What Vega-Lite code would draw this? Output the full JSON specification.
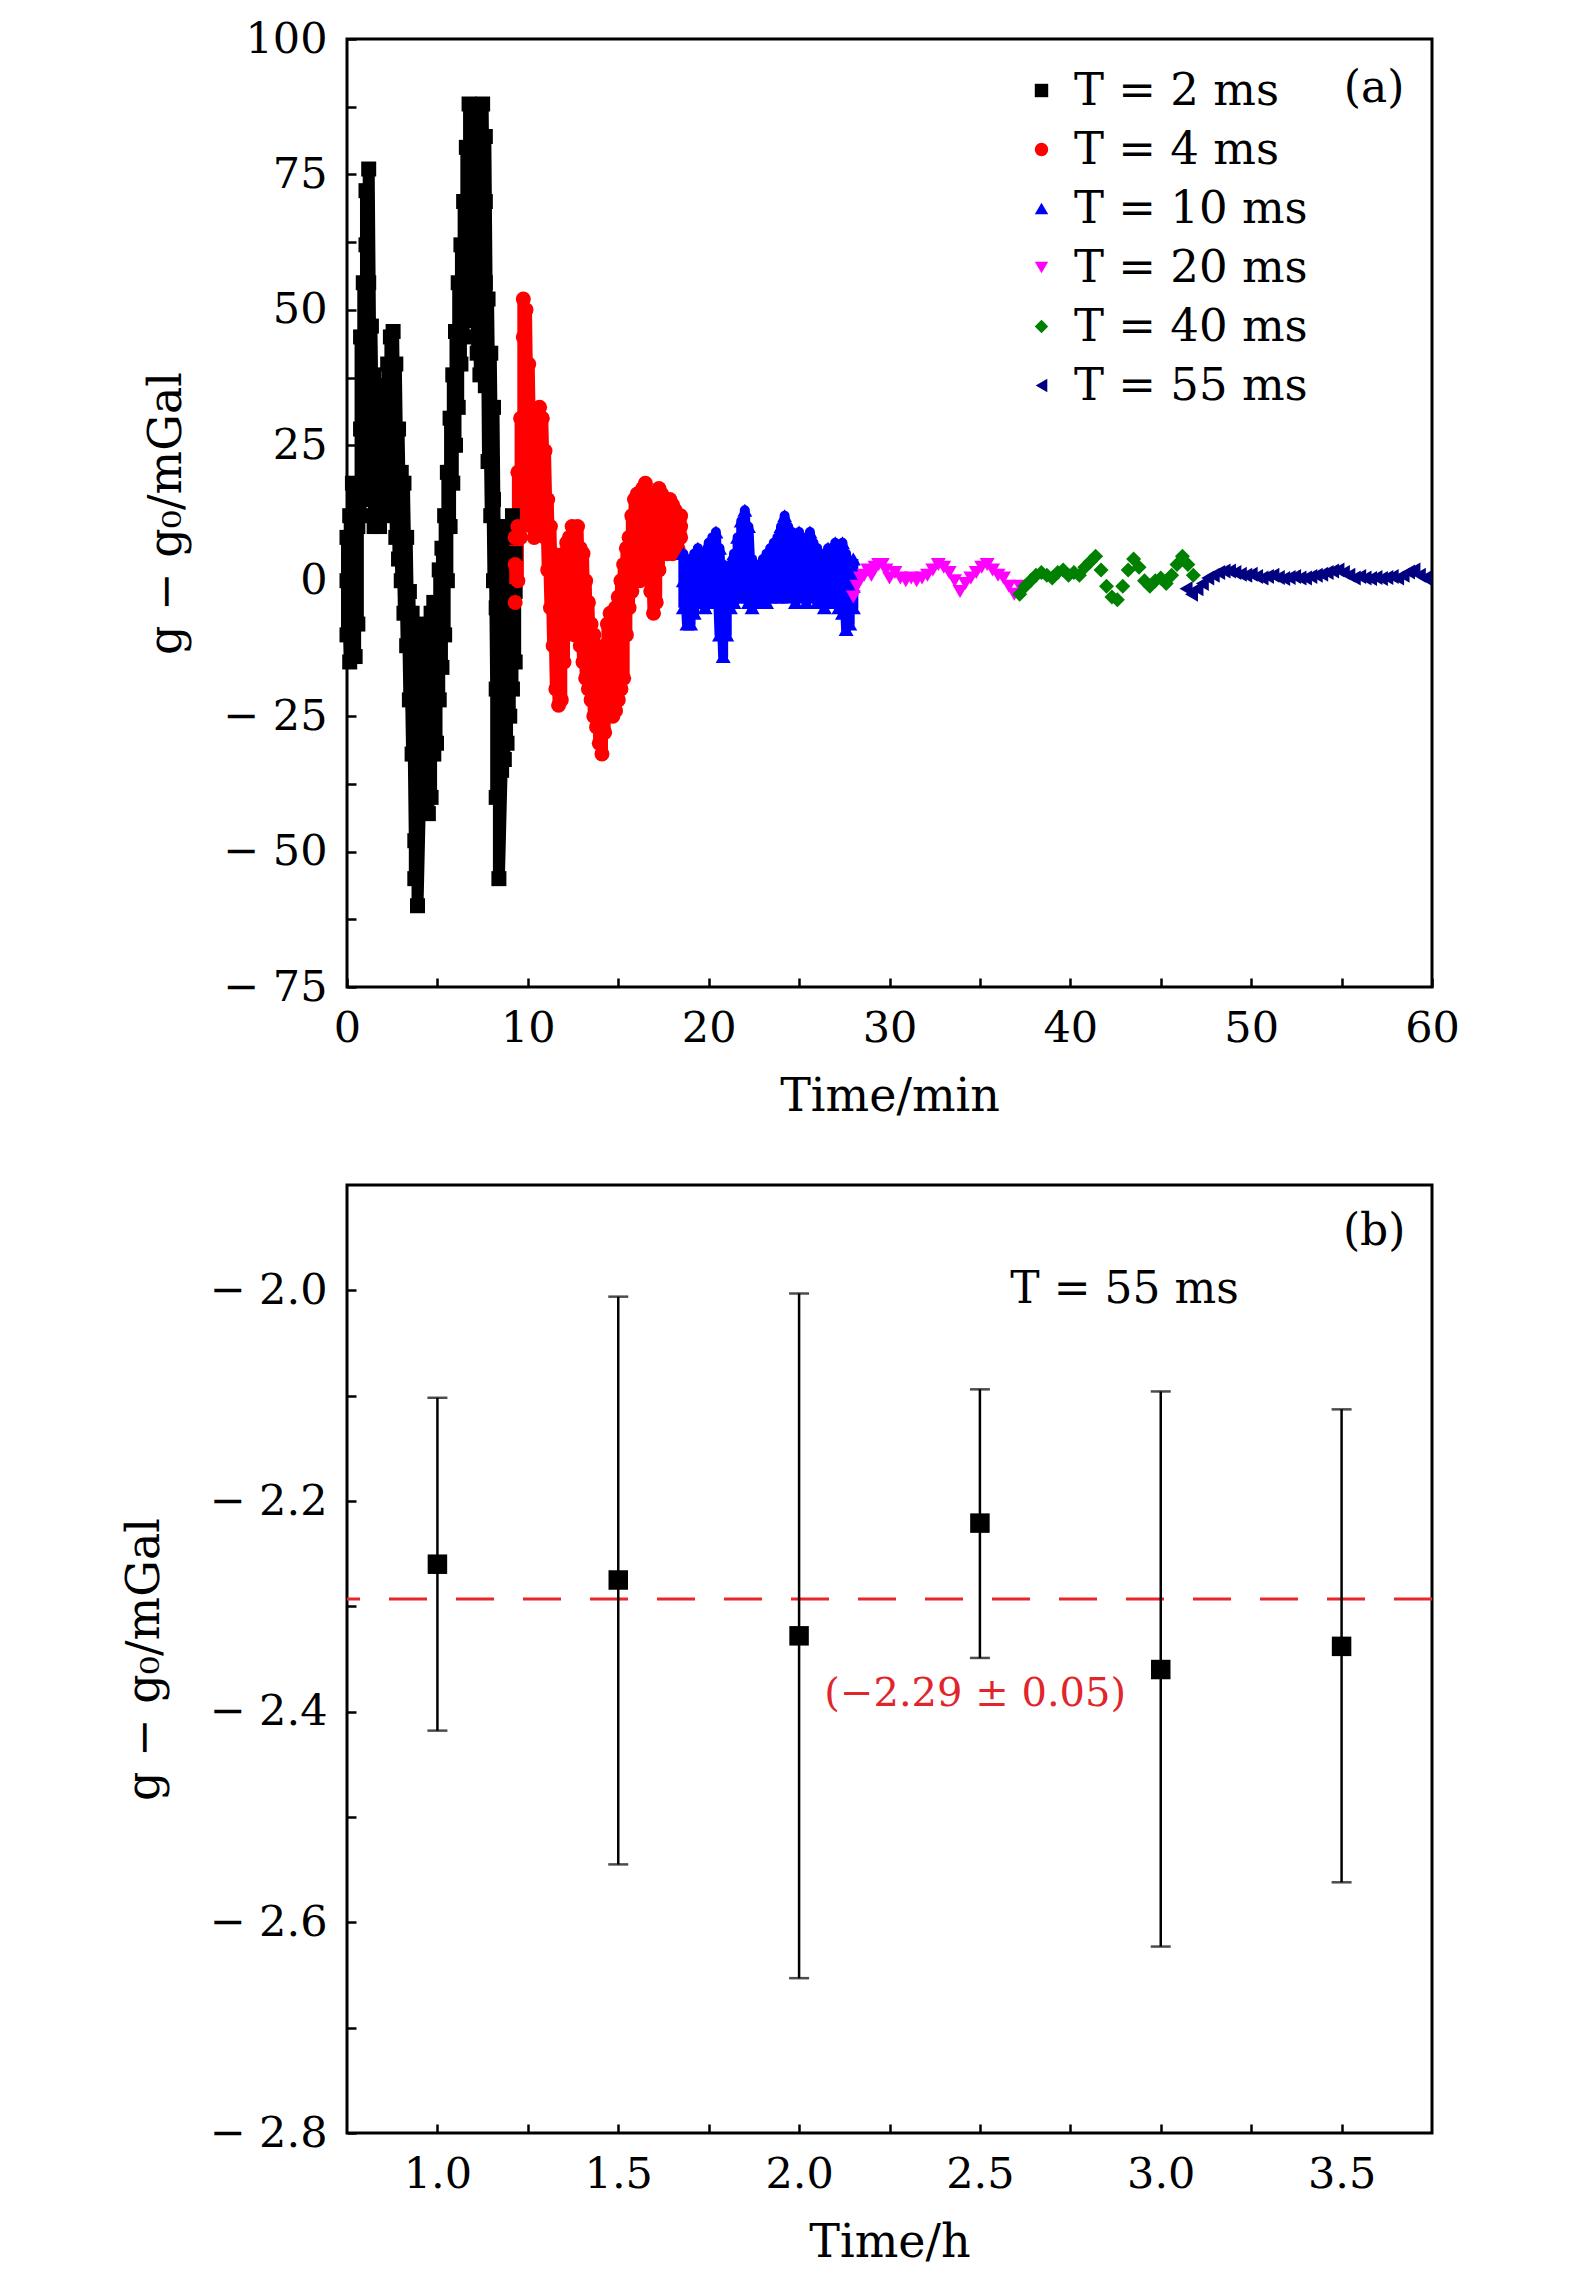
{
  "$schema": "https://vega.github.io/schema/vega-lite/v6.json",
  "background": "white",
  "padding": {"top": 16, "left": 120, "right": 0, "bottom": 0},
  "spacing": 62,
  "config": {
    "view": {"stroke": "#000", "strokeWidth": 3},
    "axis": {
      "domain": false, "grid": false,
      "tickSize": -9, "tickWidth": 2.5, "tickColor": "#000",
      "labelFont": "DejaVu Serif", "labelFontSize": 43, "labelColor": "#000",
      "titleFont": "DejaVu Serif", "titleFontSize": 46, "titleFontWeight": "normal", "titleColor": "#000"
    },
    "text": {"font": "DejaVu Serif"}
  },
  "datasets": {
    "a": [
      {"s":"2","t":0,"y":-10},{"s":"2","t":0,"y":0},{"s":"2","t":0,"y":8},
      {"s":"2","t":0.15,"y":-15},{"s":"2","t":0.15,"y":-3},{"s":"2","t":0.15,"y":12},
      {"s":"2","t":0.3,"y":-12},{"s":"2","t":0.3,"y":5},{"s":"2","t":0.3,"y":18},
      {"s":"2","t":0.45,"y":-14},{"s":"2","t":0.45,"y":2},{"s":"2","t":0.45,"y":15},
      {"s":"2","t":0.6,"y":-8},{"s":"2","t":0.6,"y":10},{"s":"2","t":0.6,"y":17},
      {"s":"2","t":0.75,"y":12},{"s":"2","t":0.75,"y":28},{"s":"2","t":0.75,"y":45},
      {"s":"2","t":0.9,"y":20},{"s":"2","t":0.9,"y":38},{"s":"2","t":0.9,"y":55},
      {"s":"2","t":1.05,"y":30},{"s":"2","t":1.05,"y":48},{"s":"2","t":1.05,"y":62},{"s":"2","t":1.05,"y":72},
      {"s":"2","t":1.2,"y":35},{"s":"2","t":1.2,"y":55},{"s":"2","t":1.2,"y":76},
      {"s":"2","t":1.35,"y":15},{"s":"2","t":1.35,"y":30},{"s":"2","t":1.35,"y":47},
      {"s":"2","t":1.5,"y":10},{"s":"2","t":1.5,"y":25},{"s":"2","t":1.5,"y":38},
      {"s":"2","t":1.65,"y":14},{"s":"2","t":1.65,"y":28},{"s":"2","t":1.65,"y":36},
      {"s":"2","t":1.8,"y":10},{"s":"2","t":1.8,"y":20},{"s":"2","t":1.8,"y":33},
      {"s":"2","t":1.95,"y":18},{"s":"2","t":1.95,"y":26},{"s":"2","t":1.95,"y":35},
      {"s":"2","t":2.1,"y":12},{"s":"2","t":2.1,"y":24},{"s":"2","t":2.1,"y":36},
      {"s":"2","t":2.25,"y":15},{"s":"2","t":2.25,"y":30},{"s":"2","t":2.25,"y":40},
      {"s":"2","t":2.4,"y":20},{"s":"2","t":2.4,"y":35},{"s":"2","t":2.4,"y":45},
      {"s":"2","t":2.55,"y":18},{"s":"2","t":2.55,"y":32},{"s":"2","t":2.55,"y":46},
      {"s":"2","t":2.7,"y":8},{"s":"2","t":2.7,"y":22},{"s":"2","t":2.7,"y":40},
      {"s":"2","t":2.85,"y":4},{"s":"2","t":2.85,"y":15},{"s":"2","t":2.85,"y":28},
      {"s":"2","t":3.0,"y":0},{"s":"2","t":3.0,"y":10},{"s":"2","t":3.0,"y":20},
      {"s":"2","t":3.15,"y":-6},{"s":"2","t":3.15,"y":5},{"s":"2","t":3.15,"y":18},
      {"s":"2","t":3.3,"y":-12},{"s":"2","t":3.3,"y":-2},{"s":"2","t":3.3,"y":8},
      {"s":"2","t":3.45,"y":-22},{"s":"2","t":3.45,"y":-10},{"s":"2","t":3.45,"y":-2},
      {"s":"2","t":3.6,"y":-32},{"s":"2","t":3.6,"y":-18},{"s":"2","t":3.6,"y":-6},
      {"s":"2","t":3.75,"y":-48},{"s":"2","t":3.75,"y":-30},{"s":"2","t":3.75,"y":-15},{"s":"2","t":3.75,"y":-55},
      {"s":"2","t":3.9,"y":-42},{"s":"2","t":3.9,"y":-28},{"s":"2","t":3.9,"y":-15},{"s":"2","t":3.9,"y":-60},
      {"s":"2","t":4.05,"y":-38},{"s":"2","t":4.05,"y":-25},{"s":"2","t":4.05,"y":-12},
      {"s":"2","t":4.2,"y":-32},{"s":"2","t":4.2,"y":-20},{"s":"2","t":4.2,"y":-8},
      {"s":"2","t":4.35,"y":-40},{"s":"2","t":4.35,"y":-25},{"s":"2","t":4.35,"y":-10},
      {"s":"2","t":4.5,"y":-43},{"s":"2","t":4.5,"y":-30},{"s":"2","t":4.5,"y":-15},
      {"s":"2","t":4.65,"y":-40},{"s":"2","t":4.65,"y":-22},{"s":"2","t":4.65,"y":-6},
      {"s":"2","t":4.8,"y":-32},{"s":"2","t":4.8,"y":-18},{"s":"2","t":4.8,"y":-4},
      {"s":"2","t":4.95,"y":-30},{"s":"2","t":4.95,"y":-16},{"s":"2","t":4.95,"y":-6},
      {"s":"2","t":5.1,"y":-22},{"s":"2","t":5.1,"y":-10},{"s":"2","t":5.1,"y":2},
      {"s":"2","t":5.25,"y":-16},{"s":"2","t":5.25,"y":-4},{"s":"2","t":5.25,"y":6},
      {"s":"2","t":5.4,"y":-10},{"s":"2","t":5.4,"y":2},{"s":"2","t":5.4,"y":12},
      {"s":"2","t":5.55,"y":0},{"s":"2","t":5.55,"y":10},{"s":"2","t":5.55,"y":20},
      {"s":"2","t":5.7,"y":10},{"s":"2","t":5.7,"y":20},{"s":"2","t":5.7,"y":30},
      {"s":"2","t":5.85,"y":18},{"s":"2","t":5.85,"y":28},{"s":"2","t":5.85,"y":38},
      {"s":"2","t":6.0,"y":25},{"s":"2","t":6.0,"y":36},{"s":"2","t":6.0,"y":46},
      {"s":"2","t":6.15,"y":32},{"s":"2","t":6.15,"y":45},{"s":"2","t":6.15,"y":55},
      {"s":"2","t":6.3,"y":40},{"s":"2","t":6.3,"y":52},{"s":"2","t":6.3,"y":62},
      {"s":"2","t":6.45,"y":45},{"s":"2","t":6.45,"y":58},{"s":"2","t":6.45,"y":70},
      {"s":"2","t":6.6,"y":50},{"s":"2","t":6.6,"y":65},{"s":"2","t":6.6,"y":80},
      {"s":"2","t":6.75,"y":55},{"s":"2","t":6.75,"y":72},{"s":"2","t":6.75,"y":88},
      {"s":"2","t":6.9,"y":52},{"s":"2","t":6.9,"y":68},{"s":"2","t":6.9,"y":86},
      {"s":"2","t":7.05,"y":48},{"s":"2","t":7.05,"y":60},{"s":"2","t":7.05,"y":78},
      {"s":"2","t":7.2,"y":42},{"s":"2","t":7.2,"y":55},{"s":"2","t":7.2,"y":66},
      {"s":"2","t":7.35,"y":38},{"s":"2","t":7.35,"y":50},{"s":"2","t":7.35,"y":62},
      {"s":"2","t":7.5,"y":40},{"s":"2","t":7.5,"y":58},{"s":"2","t":7.5,"y":75},{"s":"2","t":7.5,"y":88},
      {"s":"2","t":7.65,"y":36},{"s":"2","t":7.65,"y":55},{"s":"2","t":7.65,"y":70},{"s":"2","t":7.65,"y":82},
      {"s":"2","t":7.8,"y":22},{"s":"2","t":7.8,"y":38},{"s":"2","t":7.8,"y":52},
      {"s":"2","t":7.95,"y":12},{"s":"2","t":7.95,"y":25},{"s":"2","t":7.95,"y":42},
      {"s":"2","t":8.1,"y":0},{"s":"2","t":8.1,"y":15},{"s":"2","t":8.1,"y":32},
      {"s":"2","t":8.25,"y":-20},{"s":"2","t":8.25,"y":-5},{"s":"2","t":8.25,"y":10},{"s":"2","t":8.25,"y":-40},
      {"s":"2","t":8.4,"y":-30},{"s":"2","t":8.4,"y":-12},{"s":"2","t":8.4,"y":5},{"s":"2","t":8.4,"y":-55},
      {"s":"2","t":8.55,"y":-35},{"s":"2","t":8.55,"y":-15},{"s":"2","t":8.55,"y":0},
      {"s":"2","t":8.7,"y":-33},{"s":"2","t":8.7,"y":-15},{"s":"2","t":8.7,"y":5},
      {"s":"2","t":8.85,"y":-30},{"s":"2","t":8.85,"y":-10},{"s":"2","t":8.85,"y":10},
      {"s":"2","t":9.0,"y":-25},{"s":"2","t":9.0,"y":-8},{"s":"2","t":9.0,"y":8},
      {"s":"2","t":9.15,"y":-20},{"s":"2","t":9.15,"y":-5},{"s":"2","t":9.15,"y":12},
      {"s":"2","t":9.3,"y":-15},{"s":"2","t":9.3,"y":-2},{"s":"2","t":9.3,"y":5},

      {"s":"4","t":9.3,"y":-4},{"s":"4","t":9.3,"y":3},{"s":"4","t":9.3,"y":8},
      {"s":"4","t":9.45,"y":0},{"s":"4","t":9.45,"y":10},{"s":"4","t":9.45,"y":20},
      {"s":"4","t":9.6,"y":8},{"s":"4","t":9.6,"y":18},{"s":"4","t":9.6,"y":30},
      {"s":"4","t":9.75,"y":15},{"s":"4","t":9.75,"y":30},{"s":"4","t":9.75,"y":45},{"s":"4","t":9.75,"y":52},
      {"s":"4","t":9.9,"y":20},{"s":"4","t":9.9,"y":35},{"s":"4","t":9.9,"y":50},
      {"s":"4","t":10.05,"y":12},{"s":"4","t":10.05,"y":25},{"s":"4","t":10.05,"y":40},
      {"s":"4","t":10.2,"y":10},{"s":"4","t":10.2,"y":20},{"s":"4","t":10.2,"y":32},
      {"s":"4","t":10.35,"y":8},{"s":"4","t":10.35,"y":18},{"s":"4","t":10.35,"y":30},
      {"s":"4","t":10.5,"y":12},{"s":"4","t":10.5,"y":22},{"s":"4","t":10.5,"y":28},
      {"s":"4","t":10.65,"y":15},{"s":"4","t":10.65,"y":25},{"s":"4","t":10.65,"y":32},
      {"s":"4","t":10.8,"y":10},{"s":"4","t":10.8,"y":20},{"s":"4","t":10.8,"y":30},
      {"s":"4","t":10.95,"y":8},{"s":"4","t":10.95,"y":15},{"s":"4","t":10.95,"y":24},
      {"s":"4","t":11.1,"y":2},{"s":"4","t":11.1,"y":10},{"s":"4","t":11.1,"y":15},
      {"s":"4","t":11.25,"y":-5},{"s":"4","t":11.25,"y":3},{"s":"4","t":11.25,"y":10},
      {"s":"4","t":11.4,"y":-12},{"s":"4","t":11.4,"y":-5},{"s":"4","t":11.4,"y":5},
      {"s":"4","t":11.55,"y":-20},{"s":"4","t":11.55,"y":-10},{"s":"4","t":11.55,"y":0},
      {"s":"4","t":11.7,"y":-23},{"s":"4","t":11.7,"y":-15},{"s":"4","t":11.7,"y":-5},
      {"s":"4","t":11.85,"y":-22},{"s":"4","t":11.85,"y":-12},{"s":"4","t":11.85,"y":0},
      {"s":"4","t":12.0,"y":-15},{"s":"4","t":12.0,"y":-5},{"s":"4","t":12.0,"y":5},
      {"s":"4","t":12.15,"y":-10},{"s":"4","t":12.15,"y":0},{"s":"4","t":12.15,"y":7},
      {"s":"4","t":12.3,"y":-8},{"s":"4","t":12.3,"y":2},{"s":"4","t":12.3,"y":8},
      {"s":"4","t":12.45,"y":-5},{"s":"4","t":12.45,"y":4},{"s":"4","t":12.45,"y":10},
      {"s":"4","t":12.6,"y":-10},{"s":"4","t":12.6,"y":0},{"s":"4","t":12.6,"y":8},
      {"s":"4","t":12.75,"y":-8},{"s":"4","t":12.75,"y":2},{"s":"4","t":12.75,"y":10},
      {"s":"4","t":12.9,"y":-12},{"s":"4","t":12.9,"y":-3},{"s":"4","t":12.9,"y":6},
      {"s":"4","t":13.05,"y":-15},{"s":"4","t":13.05,"y":-5},{"s":"4","t":13.05,"y":5},
      {"s":"4","t":13.2,"y":-18},{"s":"4","t":13.2,"y":-8},{"s":"4","t":13.2,"y":0},
      {"s":"4","t":13.35,"y":-20},{"s":"4","t":13.35,"y":-12},{"s":"4","t":13.35,"y":-4},
      {"s":"4","t":13.5,"y":-22},{"s":"4","t":13.5,"y":-15},{"s":"4","t":13.5,"y":-8},
      {"s":"4","t":13.65,"y":-25},{"s":"4","t":13.65,"y":-18},{"s":"4","t":13.65,"y":-10},
      {"s":"4","t":13.8,"y":-27},{"s":"4","t":13.8,"y":-20},{"s":"4","t":13.8,"y":-12},
      {"s":"4","t":13.95,"y":-30},{"s":"4","t":13.95,"y":-22},{"s":"4","t":13.95,"y":-15},
      {"s":"4","t":14.1,"y":-32},{"s":"4","t":14.1,"y":-25},{"s":"4","t":14.1,"y":-18},
      {"s":"4","t":14.25,"y":-28},{"s":"4","t":14.25,"y":-20},{"s":"4","t":14.25,"y":-12},
      {"s":"4","t":14.4,"y":-25},{"s":"4","t":14.4,"y":-15},{"s":"4","t":14.4,"y":-8},
      {"s":"4","t":14.55,"y":-24},{"s":"4","t":14.55,"y":-14},{"s":"4","t":14.55,"y":-6},
      {"s":"4","t":14.7,"y":-25},{"s":"4","t":14.7,"y":-16},{"s":"4","t":14.7,"y":-8},
      {"s":"4","t":14.85,"y":-24},{"s":"4","t":14.85,"y":-15},{"s":"4","t":14.85,"y":-5},
      {"s":"4","t":15.0,"y":-22},{"s":"4","t":15.0,"y":-12},{"s":"4","t":15.0,"y":-3},
      {"s":"4","t":15.15,"y":-20},{"s":"4","t":15.15,"y":-10},{"s":"4","t":15.15,"y":0},
      {"s":"4","t":15.3,"y":-18},{"s":"4","t":15.3,"y":-6},{"s":"4","t":15.3,"y":3},
      {"s":"4","t":15.45,"y":-10},{"s":"4","t":15.45,"y":0},{"s":"4","t":15.45,"y":6},
      {"s":"4","t":15.6,"y":-5},{"s":"4","t":15.6,"y":3},{"s":"4","t":15.6,"y":8},
      {"s":"4","t":15.75,"y":-2},{"s":"4","t":15.75,"y":5},{"s":"4","t":15.75,"y":12},
      {"s":"4","t":15.9,"y":0},{"s":"4","t":15.9,"y":8},{"s":"4","t":15.9,"y":15},
      {"s":"4","t":16.05,"y":2},{"s":"4","t":16.05,"y":10},{"s":"4","t":16.05,"y":16},
      {"s":"4","t":16.2,"y":0},{"s":"4","t":16.2,"y":8},{"s":"4","t":16.2,"y":14},
      {"s":"4","t":16.35,"y":2},{"s":"4","t":16.35,"y":10},{"s":"4","t":16.35,"y":17},
      {"s":"4","t":16.5,"y":5},{"s":"4","t":16.5,"y":12},{"s":"4","t":16.5,"y":18},
      {"s":"4","t":16.65,"y":3},{"s":"4","t":16.65,"y":10},{"s":"4","t":16.65,"y":16},
      {"s":"4","t":16.8,"y":-2},{"s":"4","t":16.8,"y":5},{"s":"4","t":16.8,"y":12},
      {"s":"4","t":16.95,"y":-6},{"s":"4","t":16.95,"y":2},{"s":"4","t":16.95,"y":8},
      {"s":"4","t":17.1,"y":-4},{"s":"4","t":17.1,"y":5},{"s":"4","t":17.1,"y":14},
      {"s":"4","t":17.25,"y":2},{"s":"4","t":17.25,"y":10},{"s":"4","t":17.25,"y":17},
      {"s":"4","t":17.4,"y":5},{"s":"4","t":17.4,"y":12},{"s":"4","t":17.4,"y":16},
      {"s":"4","t":17.55,"y":6},{"s":"4","t":17.55,"y":10},{"s":"4","t":17.55,"y":15},
      {"s":"4","t":17.7,"y":5},{"s":"4","t":17.7,"y":10},{"s":"4","t":17.7,"y":14},
      {"s":"4","t":17.85,"y":6},{"s":"4","t":17.85,"y":11},{"s":"4","t":17.85,"y":15},
      {"s":"4","t":18.0,"y":5},{"s":"4","t":18.0,"y":9},{"s":"4","t":18.0,"y":14},
      {"s":"4","t":18.15,"y":7},{"s":"4","t":18.15,"y":10},{"s":"4","t":18.15,"y":13},
      {"s":"4","t":18.3,"y":6},{"s":"4","t":18.3,"y":9},{"s":"4","t":18.3,"y":12},
      {"s":"4","t":18.45,"y":8},{"s":"4","t":18.45,"y":10},{"s":"4","t":18.45,"y":12},

      {"s":"10","t":18.6,"y":-5},{"s":"10","t":18.6,"y":0},{"s":"10","t":18.6,"y":5},
      {"s":"10","t":18.8,"y":-8},{"s":"10","t":18.8,"y":-2},{"s":"10","t":18.8,"y":4},
      {"s":"10","t":19.0,"y":-8},{"s":"10","t":19.0,"y":0},{"s":"10","t":19.0,"y":3},
      {"s":"10","t":19.2,"y":-6},{"s":"10","t":19.2,"y":1},{"s":"10","t":19.2,"y":5},
      {"s":"10","t":19.4,"y":-4},{"s":"10","t":19.4,"y":2},{"s":"10","t":19.4,"y":6},
      {"s":"10","t":19.6,"y":-3},{"s":"10","t":19.6,"y":1},{"s":"10","t":19.6,"y":5},
      {"s":"10","t":19.8,"y":-5},{"s":"10","t":19.8,"y":0},{"s":"10","t":19.8,"y":4},
      {"s":"10","t":20.0,"y":-4},{"s":"10","t":20.0,"y":2},{"s":"10","t":20.0,"y":7},
      {"s":"10","t":20.2,"y":-3},{"s":"10","t":20.2,"y":3},{"s":"10","t":20.2,"y":8},
      {"s":"10","t":20.4,"y":-2},{"s":"10","t":20.4,"y":4},{"s":"10","t":20.4,"y":9},
      {"s":"10","t":20.6,"y":-10},{"s":"10","t":20.6,"y":0},{"s":"10","t":20.6,"y":6},
      {"s":"10","t":20.8,"y":-14},{"s":"10","t":20.8,"y":-5},{"s":"10","t":20.8,"y":3},
      {"s":"10","t":21.0,"y":-10},{"s":"10","t":21.0,"y":-2},{"s":"10","t":21.0,"y":2},
      {"s":"10","t":21.2,"y":-5},{"s":"10","t":21.2,"y":0},{"s":"10","t":21.2,"y":3},
      {"s":"10","t":21.4,"y":-4},{"s":"10","t":21.4,"y":2},{"s":"10","t":21.4,"y":5},
      {"s":"10","t":21.6,"y":-3},{"s":"10","t":21.6,"y":3},{"s":"10","t":21.6,"y":8},
      {"s":"10","t":21.8,"y":-2},{"s":"10","t":21.8,"y":5},{"s":"10","t":21.8,"y":11},
      {"s":"10","t":22.0,"y":-3},{"s":"10","t":22.0,"y":6},{"s":"10","t":22.0,"y":13},
      {"s":"10","t":22.2,"y":-4},{"s":"10","t":22.2,"y":4},{"s":"10","t":22.2,"y":10},
      {"s":"10","t":22.4,"y":-5},{"s":"10","t":22.4,"y":1},{"s":"10","t":22.4,"y":4},
      {"s":"10","t":22.6,"y":-3},{"s":"10","t":22.6,"y":1},{"s":"10","t":22.6,"y":3},
      {"s":"10","t":22.8,"y":-4},{"s":"10","t":22.8,"y":0},{"s":"10","t":22.8,"y":3},
      {"s":"10","t":23.0,"y":-3},{"s":"10","t":23.0,"y":2},{"s":"10","t":23.0,"y":4},
      {"s":"10","t":23.2,"y":-4},{"s":"10","t":23.2,"y":0},{"s":"10","t":23.2,"y":5},
      {"s":"10","t":23.4,"y":-3},{"s":"10","t":23.4,"y":1},{"s":"10","t":23.4,"y":6},
      {"s":"10","t":23.6,"y":-2},{"s":"10","t":23.6,"y":3},{"s":"10","t":23.6,"y":7},
      {"s":"10","t":23.8,"y":-3},{"s":"10","t":23.8,"y":4},{"s":"10","t":23.8,"y":8},
      {"s":"10","t":24.0,"y":-3},{"s":"10","t":24.0,"y":5},{"s":"10","t":24.0,"y":10},
      {"s":"10","t":24.2,"y":-2},{"s":"10","t":24.2,"y":6},{"s":"10","t":24.2,"y":12},
      {"s":"10","t":24.4,"y":-3},{"s":"10","t":24.4,"y":5},{"s":"10","t":24.4,"y":10},
      {"s":"10","t":24.6,"y":-2},{"s":"10","t":24.6,"y":4},{"s":"10","t":24.6,"y":9},
      {"s":"10","t":24.8,"y":-4},{"s":"10","t":24.8,"y":3},{"s":"10","t":24.8,"y":8},
      {"s":"10","t":25.0,"y":-3},{"s":"10","t":25.0,"y":4},{"s":"10","t":25.0,"y":9},
      {"s":"10","t":25.2,"y":-2},{"s":"10","t":25.2,"y":3},{"s":"10","t":25.2,"y":8},
      {"s":"10","t":25.4,"y":-4},{"s":"10","t":25.4,"y":2},{"s":"10","t":25.4,"y":7},
      {"s":"10","t":25.6,"y":-3},{"s":"10","t":25.6,"y":4},{"s":"10","t":25.6,"y":9},
      {"s":"10","t":25.8,"y":-2},{"s":"10","t":25.8,"y":3},{"s":"10","t":25.8,"y":7},
      {"s":"10","t":26.0,"y":-4},{"s":"10","t":26.0,"y":1},{"s":"10","t":26.0,"y":6},
      {"s":"10","t":26.2,"y":-3},{"s":"10","t":26.2,"y":2},{"s":"10","t":26.2,"y":5},
      {"s":"10","t":26.4,"y":-5},{"s":"10","t":26.4,"y":0},{"s":"10","t":26.4,"y":4},
      {"s":"10","t":26.6,"y":-4},{"s":"10","t":26.6,"y":1},{"s":"10","t":26.6,"y":6},
      {"s":"10","t":26.8,"y":-3},{"s":"10","t":26.8,"y":2},{"s":"10","t":26.8,"y":5},
      {"s":"10","t":27.0,"y":-4},{"s":"10","t":27.0,"y":1},{"s":"10","t":27.0,"y":7},
      {"s":"10","t":27.2,"y":-5},{"s":"10","t":27.2,"y":0},{"s":"10","t":27.2,"y":5},
      {"s":"10","t":27.4,"y":-6},{"s":"10","t":27.4,"y":1},{"s":"10","t":27.4,"y":7},
      {"s":"10","t":27.6,"y":-9},{"s":"10","t":27.6,"y":-2},{"s":"10","t":27.6,"y":5},
      {"s":"10","t":27.8,"y":-8},{"s":"10","t":27.8,"y":-3},{"s":"10","t":27.8,"y":3},
      {"s":"10","t":28.0,"y":-5},{"s":"10","t":28.0,"y":-1},{"s":"10","t":28.0,"y":4},

      {"s":"20","t":28.0,"y":-3},{"s":"20","t":28.2,"y":-1},{"s":"20","t":28.4,"y":0.5},
      {"s":"20","t":28.6,"y":1},{"s":"20","t":28.8,"y":2},{"s":"20","t":29.0,"y":1},
      {"s":"20","t":29.2,"y":2.5},{"s":"20","t":29.4,"y":3},{"s":"20","t":29.6,"y":3},
      {"s":"20","t":29.8,"y":2},{"s":"20","t":30.0,"y":0.5},{"s":"20","t":30.3,"y":1.5},
      {"s":"20","t":30.6,"y":0.5},{"s":"20","t":30.9,"y":0},{"s":"20","t":31.2,"y":0.5},
      {"s":"20","t":31.5,"y":0},{"s":"20","t":31.8,"y":0.5},{"s":"20","t":32.1,"y":1},
      {"s":"20","t":32.4,"y":2},{"s":"20","t":32.7,"y":3},{"s":"20","t":33.0,"y":2.5},
      {"s":"20","t":33.3,"y":1.5},{"s":"20","t":33.6,"y":0},{"s":"20","t":33.9,"y":-2},
      {"s":"20","t":34.2,"y":-0.5},{"s":"20","t":34.5,"y":0.5},{"s":"20","t":34.8,"y":1.5},
      {"s":"20","t":35.1,"y":2.5},{"s":"20","t":35.4,"y":3},{"s":"20","t":35.7,"y":2},
      {"s":"20","t":36.0,"y":1},{"s":"20","t":36.3,"y":0.5},{"s":"20","t":36.6,"y":-1},
      {"s":"20","t":36.9,"y":-2.5},{"s":"20","t":37.2,"y":-1},

      {"s":"40","t":37.2,"y":-2.5},{"s":"40","t":37.5,"y":-1},{"s":"40","t":37.8,"y":0},
      {"s":"40","t":38.1,"y":1},{"s":"40","t":38.4,"y":1.5},{"s":"40","t":38.7,"y":1},
      {"s":"40","t":39.0,"y":0.5},{"s":"40","t":39.3,"y":1.5},{"s":"40","t":39.6,"y":2},
      {"s":"40","t":39.9,"y":1},{"s":"40","t":40.2,"y":1.5},{"s":"40","t":40.5,"y":1},
      {"s":"40","t":40.8,"y":2.5},{"s":"40","t":41.1,"y":3.5},{"s":"40","t":41.4,"y":4.5},
      {"s":"40","t":41.7,"y":2},{"s":"40","t":42.0,"y":-1},{"s":"40","t":42.3,"y":-3},
      {"s":"40","t":42.6,"y":-3.5},{"s":"40","t":42.9,"y":-1},{"s":"40","t":43.2,"y":2},
      {"s":"40","t":43.5,"y":4},{"s":"40","t":43.8,"y":2.5},{"s":"40","t":44.1,"y":0},
      {"s":"40","t":44.4,"y":-1},{"s":"40","t":44.7,"y":0},{"s":"40","t":45.0,"y":0.5},
      {"s":"40","t":45.3,"y":-0.5},{"s":"40","t":45.6,"y":1},{"s":"40","t":45.9,"y":3},
      {"s":"40","t":46.2,"y":4.5},{"s":"40","t":46.5,"y":3},{"s":"40","t":46.8,"y":1},

      {"s":"55","t":46.4,"y":-1.5},{"s":"55","t":46.7,"y":-2.5},{"s":"55","t":47.0,"y":-1.5},
      {"s":"55","t":47.3,"y":-0.5},{"s":"55","t":47.6,"y":0.5},{"s":"55","t":47.9,"y":1},
      {"s":"55","t":48.2,"y":1.5},{"s":"55","t":48.5,"y":1.8},{"s":"55","t":48.8,"y":1.8},
      {"s":"55","t":49.1,"y":1.5},{"s":"55","t":49.4,"y":1.2},{"s":"55","t":49.7,"y":1},
      {"s":"55","t":50.0,"y":1.2},{"s":"55","t":50.3,"y":0.8},{"s":"55","t":50.6,"y":0.5},
      {"s":"55","t":50.9,"y":0.8},{"s":"55","t":51.2,"y":1},{"s":"55","t":51.5,"y":0.6},
      {"s":"55","t":51.8,"y":0.4},{"s":"55","t":52.1,"y":0.6},{"s":"55","t":52.4,"y":0.8},
      {"s":"55","t":52.7,"y":0.5},{"s":"55","t":53.0,"y":0.5},{"s":"55","t":53.3,"y":0.8},
      {"s":"55","t":53.6,"y":1},{"s":"55","t":53.9,"y":1.2},{"s":"55","t":54.2,"y":1.5},
      {"s":"55","t":54.5,"y":1.8},{"s":"55","t":54.8,"y":2},{"s":"55","t":55.1,"y":1.5},
      {"s":"55","t":55.4,"y":1},{"s":"55","t":55.7,"y":0.5},{"s":"55","t":56.0,"y":0.8},
      {"s":"55","t":56.3,"y":0.5},{"s":"55","t":56.6,"y":0.4},{"s":"55","t":56.9,"y":0.6},
      {"s":"55","t":57.2,"y":0.4},{"s":"55","t":57.5,"y":0.6},{"s":"55","t":57.8,"y":0.8},
      {"s":"55","t":58.1,"y":0.5},{"s":"55","t":58.4,"y":1},{"s":"55","t":58.7,"y":1.6},
      {"s":"55","t":59.0,"y":2},{"s":"55","t":59.3,"y":1},{"s":"55","t":59.6,"y":0.5}
    ],
    "b": [
      {"h":1.0,"v":-2.260,"lo":-2.418,"hi":-2.102},
      {"h":1.5,"v":-2.275,"lo":-2.545,"hi":-2.006},
      {"h":2.0,"v":-2.328,"lo":-2.653,"hi":-2.003},
      {"h":2.5,"v":-2.221,"lo":-2.349,"hi":-2.094},
      {"h":3.0,"v":-2.360,"lo":-2.623,"hi":-2.096},
      {"h":3.5,"v":-2.338,"lo":-2.562,"hi":-2.113}
    ],
    "one": [{}]
  },
  "vconcat": [
    {
      "width": 1085,
      "height": 948,
      "layer": [
        {
          "data": {"name": "a"},
          "transform": [{"filter": "datum.s == '2'"}],
          "mark": {"type": "line", "color": "#000000", "strokeWidth": 12, "strokeJoin": "round"},
          "encoding": {
            "x": {"field": "t", "type": "quantitative"},
            "y": {"field": "y", "type": "quantitative"}
          }
        },
        {
          "data": {"name": "a"},
          "transform": [{"filter": "datum.s == '4'"}],
          "mark": {"type": "line", "color": "#ff0000", "strokeWidth": 12, "strokeJoin": "round"},
          "encoding": {
            "x": {"field": "t", "type": "quantitative"},
            "y": {"field": "y", "type": "quantitative"}
          }
        },
        {
          "data": {"name": "a"},
          "transform": [{"filter": "datum.s == '10'"}],
          "mark": {"type": "line", "color": "#0000ff", "strokeWidth": 10, "strokeJoin": "round"},
          "encoding": {
            "x": {"field": "t", "type": "quantitative"},
            "y": {"field": "y", "type": "quantitative"}
          }
        },
        {
          "data": {"name": "a"},
          "mark": {"type": "point", "filled": true, "opacity": 1, "size": 225},
          "encoding": {
            "x": {
              "field": "t", "type": "quantitative",
              "scale": {"domain": [0, 60], "nice": false, "zero": false},
              "axis": {
                "title": "Time/min", "values": [0,5,10,15,20,25,30,35,40,45,50,55,60],
                "labelExpr": "datum.value % 10 == 0 ? datum.label : ''",
                "labelPadding": 29, "titlePadding": 24, "labelFlush": false
              }
            },
            "y": {
              "field": "y", "type": "quantitative",
              "scale": {"domain": [-75, 100], "nice": false, "zero": false},
              "axis": {
                "title": "g − g₀/mGal",
                "values": [-75,-62.5,-50,-37.5,-25,-12.5,0,12.5,25,37.5,50,62.5,75,87.5,100],
                "labelExpr": "round(datum.value * 2) % 50 != 0 ? '' : (datum.value < 0 ? '− ' + format(-datum.value, 'd') : format(datum.value, 'd'))",
                "labelPadding": 29, "titlePadding": 32, "labelFlush": false
              }
            },
            "color": {
              "field": "s", "type": "nominal",
              "scale": {
                "domain": ["2","4","10","20","40","55"],
                "range": ["#000000","#ff0000","#0000ff","#ff00ff","#008000","#000080"]
              },
              "legend": {
                "orient": "none", "legendX": 672, "legendY": 29, "title": null,
                "labelExpr": "'T = ' + datum.label + ' ms'", "labelLimit": 500,
                "labelFont": "DejaVu Serif", "labelFontSize": 45, "labelColor": "#000",
                "symbolSize": 180, "symbolStrokeWidth": 0, "rowPadding": 13, "labelOffset": 10
              }
            },
            "shape": {
              "field": "s", "type": "nominal",
              "scale": {
                "domain": ["2","4","10","20","40","55"],
                "range": ["square","circle","triangle-up","triangle-down","diamond","triangle-left"]
              },
              "legend": {
                "orient": "none", "legendX": 672, "legendY": 29, "title": null,
                "labelExpr": "'T = ' + datum.label + ' ms'", "labelLimit": 500,
                "labelFont": "DejaVu Serif", "labelFontSize": 45, "labelColor": "#000",
                "symbolSize": 180, "symbolStrokeWidth": 0, "rowPadding": 13, "labelOffset": 10
              }
            }
          }
        },
        {
          "data": {"name": "one"},
          "mark": {"type": "text", "text": "(a)", "fontSize": 44, "color": "#000"},
          "encoding": {"x": {"datum": 56.8}, "y": {"datum": 90.8}}
        }
      ]
    },
    {
      "width": 1085,
      "height": 948,
      "layer": [
        {
          "data": {"name": "one"},
          "mark": {"type": "rule", "color": "#e8262b", "strokeWidth": 3, "strokeDash": [38, 29]},
          "encoding": {"y": {"datum": -2.293, "type": "quantitative"}}
        },
        {
          "data": {"name": "b"},
          "mark": {"type": "rule", "color": "#000", "strokeWidth": 2.5},
          "encoding": {
            "x": {
              "field": "h", "type": "quantitative",
              "scale": {"domain": [0.75, 3.75], "nice": false, "zero": false},
              "axis": {
                "title": "Time/h", "values": [1,1.25,1.5,1.75,2,2.25,2.5,2.75,3,3.25,3.5],
                "labelExpr": "round(datum.value * 4) % 2 == 0 ? format(datum.value, '.1f') : ''",
                "labelPadding": 29, "titlePadding": 24, "labelFlush": false
              }
            },
            "y": {
              "field": "lo", "type": "quantitative",
              "scale": {"domain": [-2.8, -1.9], "nice": false, "zero": false},
              "axis": {
                "title": "g − g₀/mGal",
                "values": [-2.8,-2.7,-2.6,-2.5,-2.4,-2.3,-2.2,-2.1,-2.0],
                "labelExpr": "round(datum.value * 10) % 2 == 0 ? '− ' + format(-datum.value, '.1f') : ''",
                "labelPadding": 29, "titlePadding": 40, "labelFlush": false
              }
            },
            "y2": {"field": "hi"}
          }
        },
        {
          "data": {"name": "b"},
          "mark": {"type": "tick", "orient": "horizontal", "color": "#000", "size": 20, "thickness": 2.5},
          "encoding": {
            "x": {"field": "h", "type": "quantitative"},
            "y": {"field": "lo", "type": "quantitative"}
          }
        },
        {
          "data": {"name": "b"},
          "mark": {"type": "tick", "orient": "horizontal", "color": "#000", "size": 20, "thickness": 2.5},
          "encoding": {
            "x": {"field": "h", "type": "quantitative"},
            "y": {"field": "hi", "type": "quantitative"}
          }
        },
        {
          "data": {"name": "b"},
          "mark": {"type": "square", "color": "#000", "filled": true, "opacity": 1, "size": 380},
          "encoding": {
            "x": {"field": "h", "type": "quantitative"},
            "y": {"field": "v", "type": "quantitative"}
          }
        },
        {
          "data": {"name": "one"},
          "mark": {"type": "text", "text": "T = 55 ms", "fontSize": 44, "color": "#000"},
          "encoding": {"x": {"datum": 2.9}, "y": {"datum": -2.0}}
        },
        {
          "data": {"name": "one"},
          "mark": {"type": "text", "text": "(b)", "fontSize": 44, "color": "#000"},
          "encoding": {"x": {"datum": 3.59}, "y": {"datum": -1.945}}
        },
        {
          "data": {"name": "one"},
          "mark": {"type": "text", "text": "(−2.29 ± 0.05)", "fontSize": 40, "color": "#e0262b"},
          "encoding": {"x": {"datum": 2.487}, "y": {"datum": -2.383}}
        }
      ]
    }
  ]
}
